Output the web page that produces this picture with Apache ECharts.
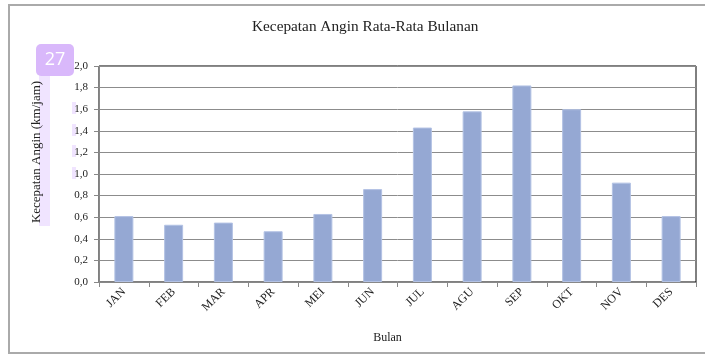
<!DOCTYPE html>
<html lang="id">
<head>
    <meta charset="UTF-8">
    <script src="https://cdn.jsdelivr.net/npm/echarts@6/dist/echarts.min.js"></script>
    <style type="text/css">
        html, body, #main {
            height: 100%;
            width: 100%;
            margin: 0;
            padding: 0;
            background: #fff;
        }
    </style>
    <title>Kecepatan Angin Rata-Rata Bulanan</title>
</head>
<body>
<div id="main"></div>
<script>
    // data bulanan (km/jam)
    var bulan = ['JAN', 'FEB', 'MAR', 'APR', 'MEI', 'JUN', 'JUL', 'AGU', 'SEP', 'OKT', 'NOV', 'DES'];
    var kecepatan = [0.61, 0.53, 0.55, 0.47, 0.63, 0.86, 1.43, 1.58, 1.82, 1.60, 0.92, 0.61];

    var serif = '"Liberation Serif", "DejaVu Serif", serif';
    var lavender = 'rgba(222,196,255,0.45)';
    var myChart = echarts.init(document.getElementById('main'));

    option = {
        animation: false,
        backgroundColor: '#fff',
        title: {
            text: 'Kecepatan Angin Rata-Rata Bulanan',
            left: 247,
            top: 14,
            textStyle: {
                fontFamily: serif,
                fontSize: 15.3,
                fontWeight: 'normal',
                color: '#222'
            }
        },
        graphic: [
            // bingkai luar
            {
                type: 'rect',
                shape: {x: 9, y: 5, width: 760, height: 348},
                style: {fill: 'none', stroke: '#aaa', lineWidth: 2},
                z: -10
            },
            // penanda halaman
            {type: 'rect', shape: {x: 39, y: 74, width: 11, height: 152}, style: {fill: lavender}, z: -5},
            {type: 'rect', shape: {x: 72, y: 102, width: 4, height: 12}, style: {fill: lavender}, z: -5},
            {type: 'rect', shape: {x: 72, y: 124, width: 4, height: 12}, style: {fill: lavender}, z: -5},
            {type: 'rect', shape: {x: 72, y: 145, width: 4, height: 12}, style: {fill: lavender}, z: -5},
            {type: 'rect', shape: {x: 72, y: 167, width: 4, height: 12}, style: {fill: lavender}, z: -5},
            {
                type: 'rect',
                shape: {x: 36, y: 44, width: 38, height: 32, r: 5},
                style: {fill: '#d9b8fb'},
                z: 10
            },
            {
                type: 'text',
                x: 55,
                y: 60,
                style: {
                    text: '27',
                    fill: '#fff',
                    font: '18px "Open Sans", sans-serif',
                    textAlign: 'center',
                    textVerticalAlign: 'middle'
                },
                z: 11
            }
        ],
        grid: {
            left: 99,
            top: 66,
            right: 9,
            bottom: 74,
            show: true,
            borderColor: '#000',
            borderWidth: 1
        },
        xAxis: {
            type: 'category',
            data: bulan,
            name: 'Bulan',
            nameLocation: 'middle',
            nameGap: 50,
            nameTextStyle: {
                fontFamily: serif,
                fontSize: 12,
                color: '#222',
                padding: [0, 20, 0, 0]
            },
            axisLine: {lineStyle: {color: '#888', width: 1}},
            axisTick: {show: true, length: 5, lineStyle: {color: '#888'}},
            axisLabel: {
                rotate: 45,
                margin: 8,
                fontFamily: serif,
                fontSize: 12,
                color: '#222'
            }
        },
        yAxis: {
            type: 'value',
            min: 0,
            max: 2,
            interval: 0.2,
            name: 'Kecepatan Angin (km/jam)',
            nameLocation: 'middle',
            nameGap: 56,
            nameTextStyle: {
                fontFamily: serif,
                fontSize: 13,
                color: '#222',
                padding: [0, 0, 0, 44]
            },
            axisLine: {show: true, lineStyle: {color: '#888', width: 1}},
            axisTick: {show: true, length: 5, lineStyle: {color: '#888'}},
            axisLabel: {
                margin: 11,
                fontFamily: serif,
                fontSize: 11,
                color: '#222',
                formatter: function (v) {
                    return v.toFixed(1).replace('.', ',');
                }
            },
            splitLine: {lineStyle: {color: '#8c8c8c', width: 1}}
        },
        series: [
            {
                type: 'bar',
                data: kecepatan,
                barWidth: 19,
                itemStyle: {
                    color: '#95a8d3',
                    borderColor: '#b3c2e4',
                    borderWidth: 1
                }
            }
        ]
    };

    myChart.setOption(option);
</script>
</body>
</html>
